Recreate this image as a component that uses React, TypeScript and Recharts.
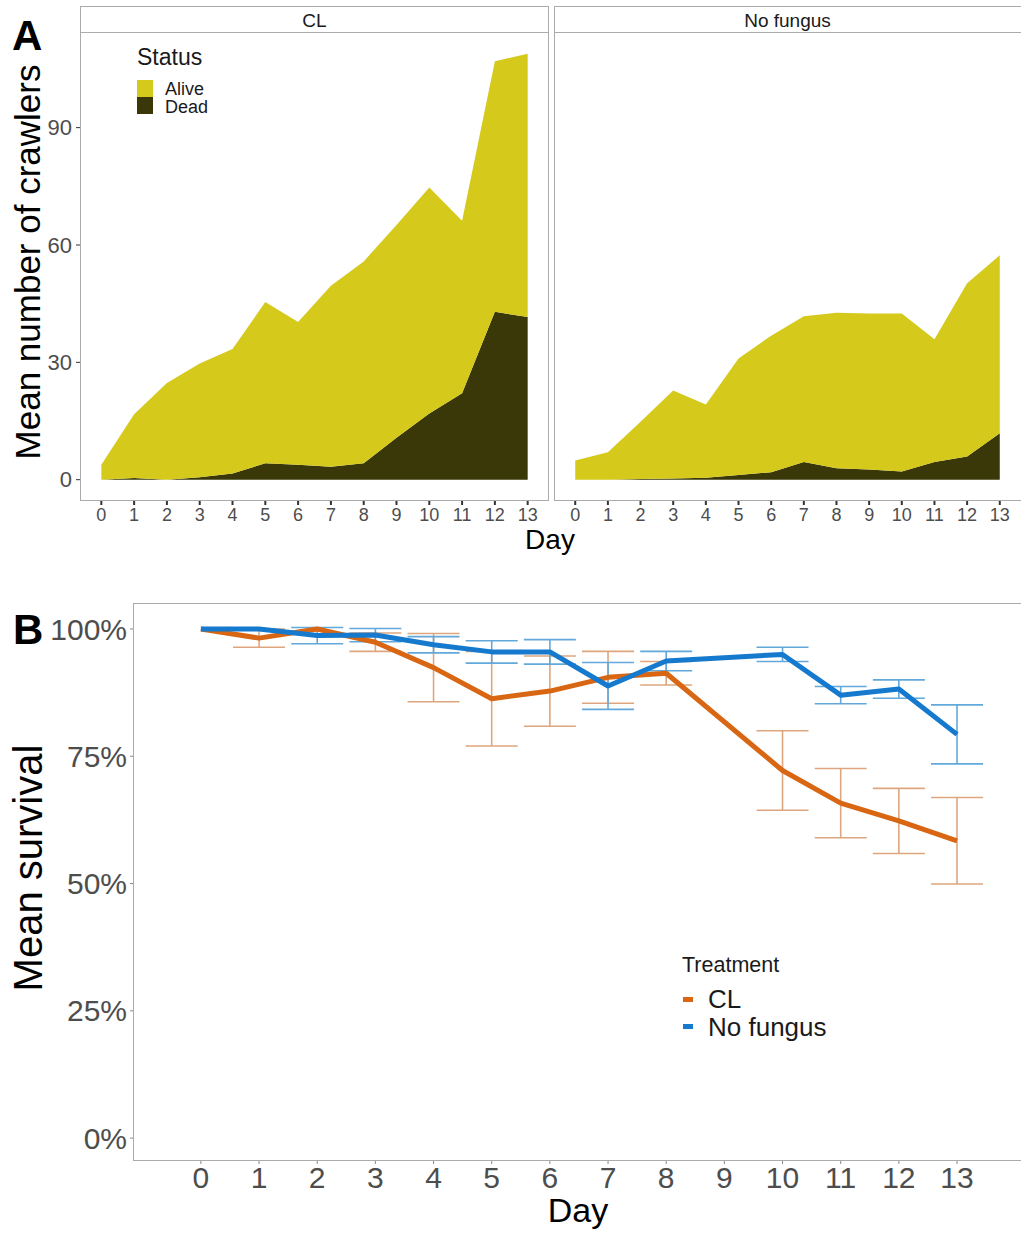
import React from 'react';
import { AreaChart, Area, LineChart, Line, XAxis, YAxis, ErrorBar } from 'recharts';

// panel A: mean number of crawlers per day, stacked dead + alive
const days = [0, 1, 2, 3, 4, 5, 6, 7, 8, 9, 10, 11, 12, 13];
const clAlive = [3.8, 16.3, 24.7, 29.1, 31.8, 41.2, 36.5, 46.3, 51.6, 54.4, 57.8, 44.1, 64.1, 67.3];
const clDead = [0, 0.4, 0, 0.6, 1.6, 4.2, 3.8, 3.3, 4.2, 10.7, 16.9, 22.1, 42.9, 41.6];
const nfAlive = [4.9, 7.0, 14.6, 22.5, 18.7, 29.8, 34.9, 37.3, 39.8, 39.9, 40.4, 31.4, 44.3, 45.5];
const nfDead = [0, 0, 0.2, 0.3, 0.5, 1.2, 1.9, 4.5, 2.9, 2.6, 2.1, 4.5, 5.9, 11.9];
const crawlerTicks = [0, 30, 60, 90];

// panel B: mean survival (%) with error bars, no day 9
const survDays = [0, 1, 2, 3, 4, 5, 6, 7, 8, 10, 11, 12, 13];
const clSurv = [100, 98.2, 100, 97.4, 92.4, 86.3, 87.8, 90.5, 91.3, 72.2, 65.8, 62.3, 58.4];
const clSe = [0, 1.8, 0, 1.8, 6.7, 9.3, 6.9, 5.1, 2.3, 7.8, 6.8, 6.4, 8.5];
const nfSurv = [100, 100, 98.7, 98.8, 96.9, 95.5, 95.5, 88.8, 93.7, 95.0, 87.0, 88.2, 79.3];
const nfSe = [0, 0, 1.6, 1.3, 1.6, 2.2, 2.4, 4.6, 1.9, 1.4, 1.7, 1.8, 5.8];
const survTicks = [0, 25, 50, 75, 100];

const ALIVE = '#D5C91B';
const DEAD = '#3A3809';
const CL_COL = '#D86613';
const NF_COL = '#1579CE';
const CL_ERR = '#DDA67E';
const NF_ERR = '#62A8DA';
const BORDER = '#ABABAB';
const TICK_TXT = '#4D4D4D';
const FONT = '"Liberation Sans", Arial, Helvetica, sans-serif';

const CrawlerPanel = (props: { alive: number[]; dead: number[]; width: number; showY: boolean }) => {
	const { alive, dead, width, showY } = props;
	const data = days.map((d, i) => ({ day: d, alive: alive[i], dead: dead[i] }));
	return (
		<AreaChart width={width} height={535} data={data} margin={{ top: 32, right: 0, bottom: 0, left: 0 }}>
			<XAxis
				dataKey='day'
				type='number'
				domain={[-0.65, 13.65]}
				allowDataOverflow
				ticks={days}
				interval={0}
				height={34}
				axisLine={false}
				tickLine={{ stroke: '#333', strokeWidth: 2 }}
				tickSize={4}
				tickMargin={3}
				tick={{ fontSize: 18, fill: TICK_TXT }}
			/>
			<YAxis
				type='number'
				domain={[-5.45, 114.45]}
				allowDataOverflow
				ticks={crawlerTicks}
				hide={!showY}
				width={80}
				axisLine={false}
				tickLine={{ stroke: '#333' }}
				tickSize={4}
				tickMargin={4}
				tick={{ fontSize: 22, fill: TICK_TXT }}
			/>
			<Area dataKey='dead' stackId='s' type='linear' fill={DEAD} fillOpacity={1} stroke='none' isAnimationActive={false} />
			<Area dataKey='alive' stackId='s' type='linear' fill={ALIVE} fillOpacity={1} stroke='none' isAnimationActive={false} />
		</AreaChart>
	);
};

const SurvivalPanel = () => {
	const data = survDays.map((d, i) => ({
		day: d,
		cl: clSurv[i],
		clSe: clSe[i],
		nf: nfSurv[i],
		nfSe: nfSe[i],
	}));
	return (
		<LineChart width={1021} height={647} data={data} margin={{ top: 13, right: 0, bottom: 0, left: 0 }}>
			<XAxis
				dataKey='day'
				type='number'
				domain={[-1.15, 14.1]}
				allowDataOverflow
				ticks={days}
				interval={0}
				height={77}
				axisLine={false}
				tickLine={{ stroke: '#888' }}
				tickSize={4}
				tickMargin={3}
				tick={{ fontSize: 30, fill: TICK_TXT }}
			/>
			<YAxis
				type='number'
				domain={[-4.3, 105.1]}
				allowDataOverflow
				ticks={survTicks}
				tickFormatter={v => `${v}%`}
				width={134}
				axisLine={false}
				tickLine={{ stroke: '#888' }}
				tickSize={4}
				tickMargin={3}
				tick={{ fontSize: 30, fill: TICK_TXT }}
			/>
			{/* error bars first so the thick lines sit on top */}
			<Line dataKey='cl' stroke='transparent' strokeWidth={0} dot={false} legendType='none' isAnimationActive={false}>
				<ErrorBar dataKey='clSe' direction='y' width={26} stroke={CL_ERR} strokeWidth={1.6} />
			</Line>
			<Line dataKey='nf' stroke='transparent' strokeWidth={0} dot={false} legendType='none' isAnimationActive={false}>
				<ErrorBar dataKey='nfSe' direction='y' width={26} stroke={NF_ERR} strokeWidth={1.6} />
			</Line>
			<Line dataKey='cl' type='linear' stroke={CL_COL} strokeWidth={5} strokeLinejoin='round' dot={false} isAnimationActive={false} />
			<Line dataKey='nf' type='linear' stroke={NF_COL} strokeWidth={5} strokeLinejoin='round' dot={false} isAnimationActive={false} />
		</LineChart>
	);
};

export default function App() {
	return (
		<div
			style={{
				position: 'absolute',
				left: 0,
				top: 0,
				width: 1021,
				height: 1237,
				overflow: 'hidden',
				background: '#fff',
				fontFamily: FONT,
			}}
		>
			<div style={{ position: 'absolute', left: 0, top: 0 }}>
				<CrawlerPanel alive={clAlive} dead={clDead} width={549} showY />
			</div>
			<div style={{ position: 'absolute', left: 554, top: 0 }}>
				<CrawlerPanel alive={nfAlive} dead={nfDead} width={467} showY={false} />
			</div>
			<div style={{ position: 'absolute', left: 0, top: 590 }}>
				<SurvivalPanel />
			</div>

			<svg
				width={1021}
				height={1237}
				style={{ position: 'absolute', left: 0, top: 0, pointerEvents: 'none' }}
				fontFamily={FONT}
			>
				{/* panel A frames and strips */}
				<rect x={80.5} y={6.5} width={468} height={26} fill='#fff' stroke={BORDER} />
				<rect x={80.5} y={32.5} width={468} height={468} fill='none' stroke={BORDER} />
				<rect x={554.5} y={6.5} width={480} height={26} fill='#fff' stroke={BORDER} />
				<rect x={554.5} y={32.5} width={480} height={468} fill='none' stroke={BORDER} />
				<text x={314.5} y={27} textAnchor='middle' fontSize={19} fill='#1A1A1A'>CL</text>
				<text x={787.5} y={27} textAnchor='middle' fontSize={19} fill='#1A1A1A'>No fungus</text>

				<text x={12} y={50} fontSize={42} fontWeight='bold' fill='#000'>A</text>
				<text transform='translate(40,262) rotate(-90)' textAnchor='middle' fontSize={35} fill='#000'>
					Mean number of crawlers
				</text>
				<text x={550} y={549} textAnchor='middle' fontSize={28} fill='#000'>Day</text>

				{/* panel A legend */}
				<text x={137} y={65} fontSize={23} fill='#1A1A1A'>Status</text>
				<rect x={137} y={80} width={16} height={17} fill={ALIVE} />
				<rect x={137} y={97} width={16} height={17} fill={DEAD} />
				<text x={165} y={95} fontSize={18} fill='#1A1A1A'>Alive</text>
				<text x={165} y={113} fontSize={18} fill='#1A1A1A'>Dead</text>

				{/* panel B frame */}
				<rect x={133.5} y={603.5} width={920} height={557} fill='none' stroke={BORDER} />
				<text x={13} y={644} fontSize={42} fontWeight='bold' fill='#000'>B</text>
				<text transform='translate(42,868) rotate(-90)' textAnchor='middle' fontSize={40} fill='#000'>
					Mean survival
				</text>
				<text x={578} y={1222} textAnchor='middle' fontSize={34} fill='#000'>Day</text>

				{/* panel B legend */}
				<text x={682} y={972} fontSize={21.5} fill='#1A1A1A'>Treatment</text>
				<rect x={683} y={997} width={10} height={5} fill={CL_COL} />
				<rect x={683} y={1024} width={10} height={5} fill={NF_COL} />
				<text x={708} y={1008} fontSize={26} fill='#1A1A1A'>CL</text>
				<text x={708} y={1036} fontSize={26} fill='#1A1A1A'>No fungus</text>
			</svg>
		</div>
	);
}
